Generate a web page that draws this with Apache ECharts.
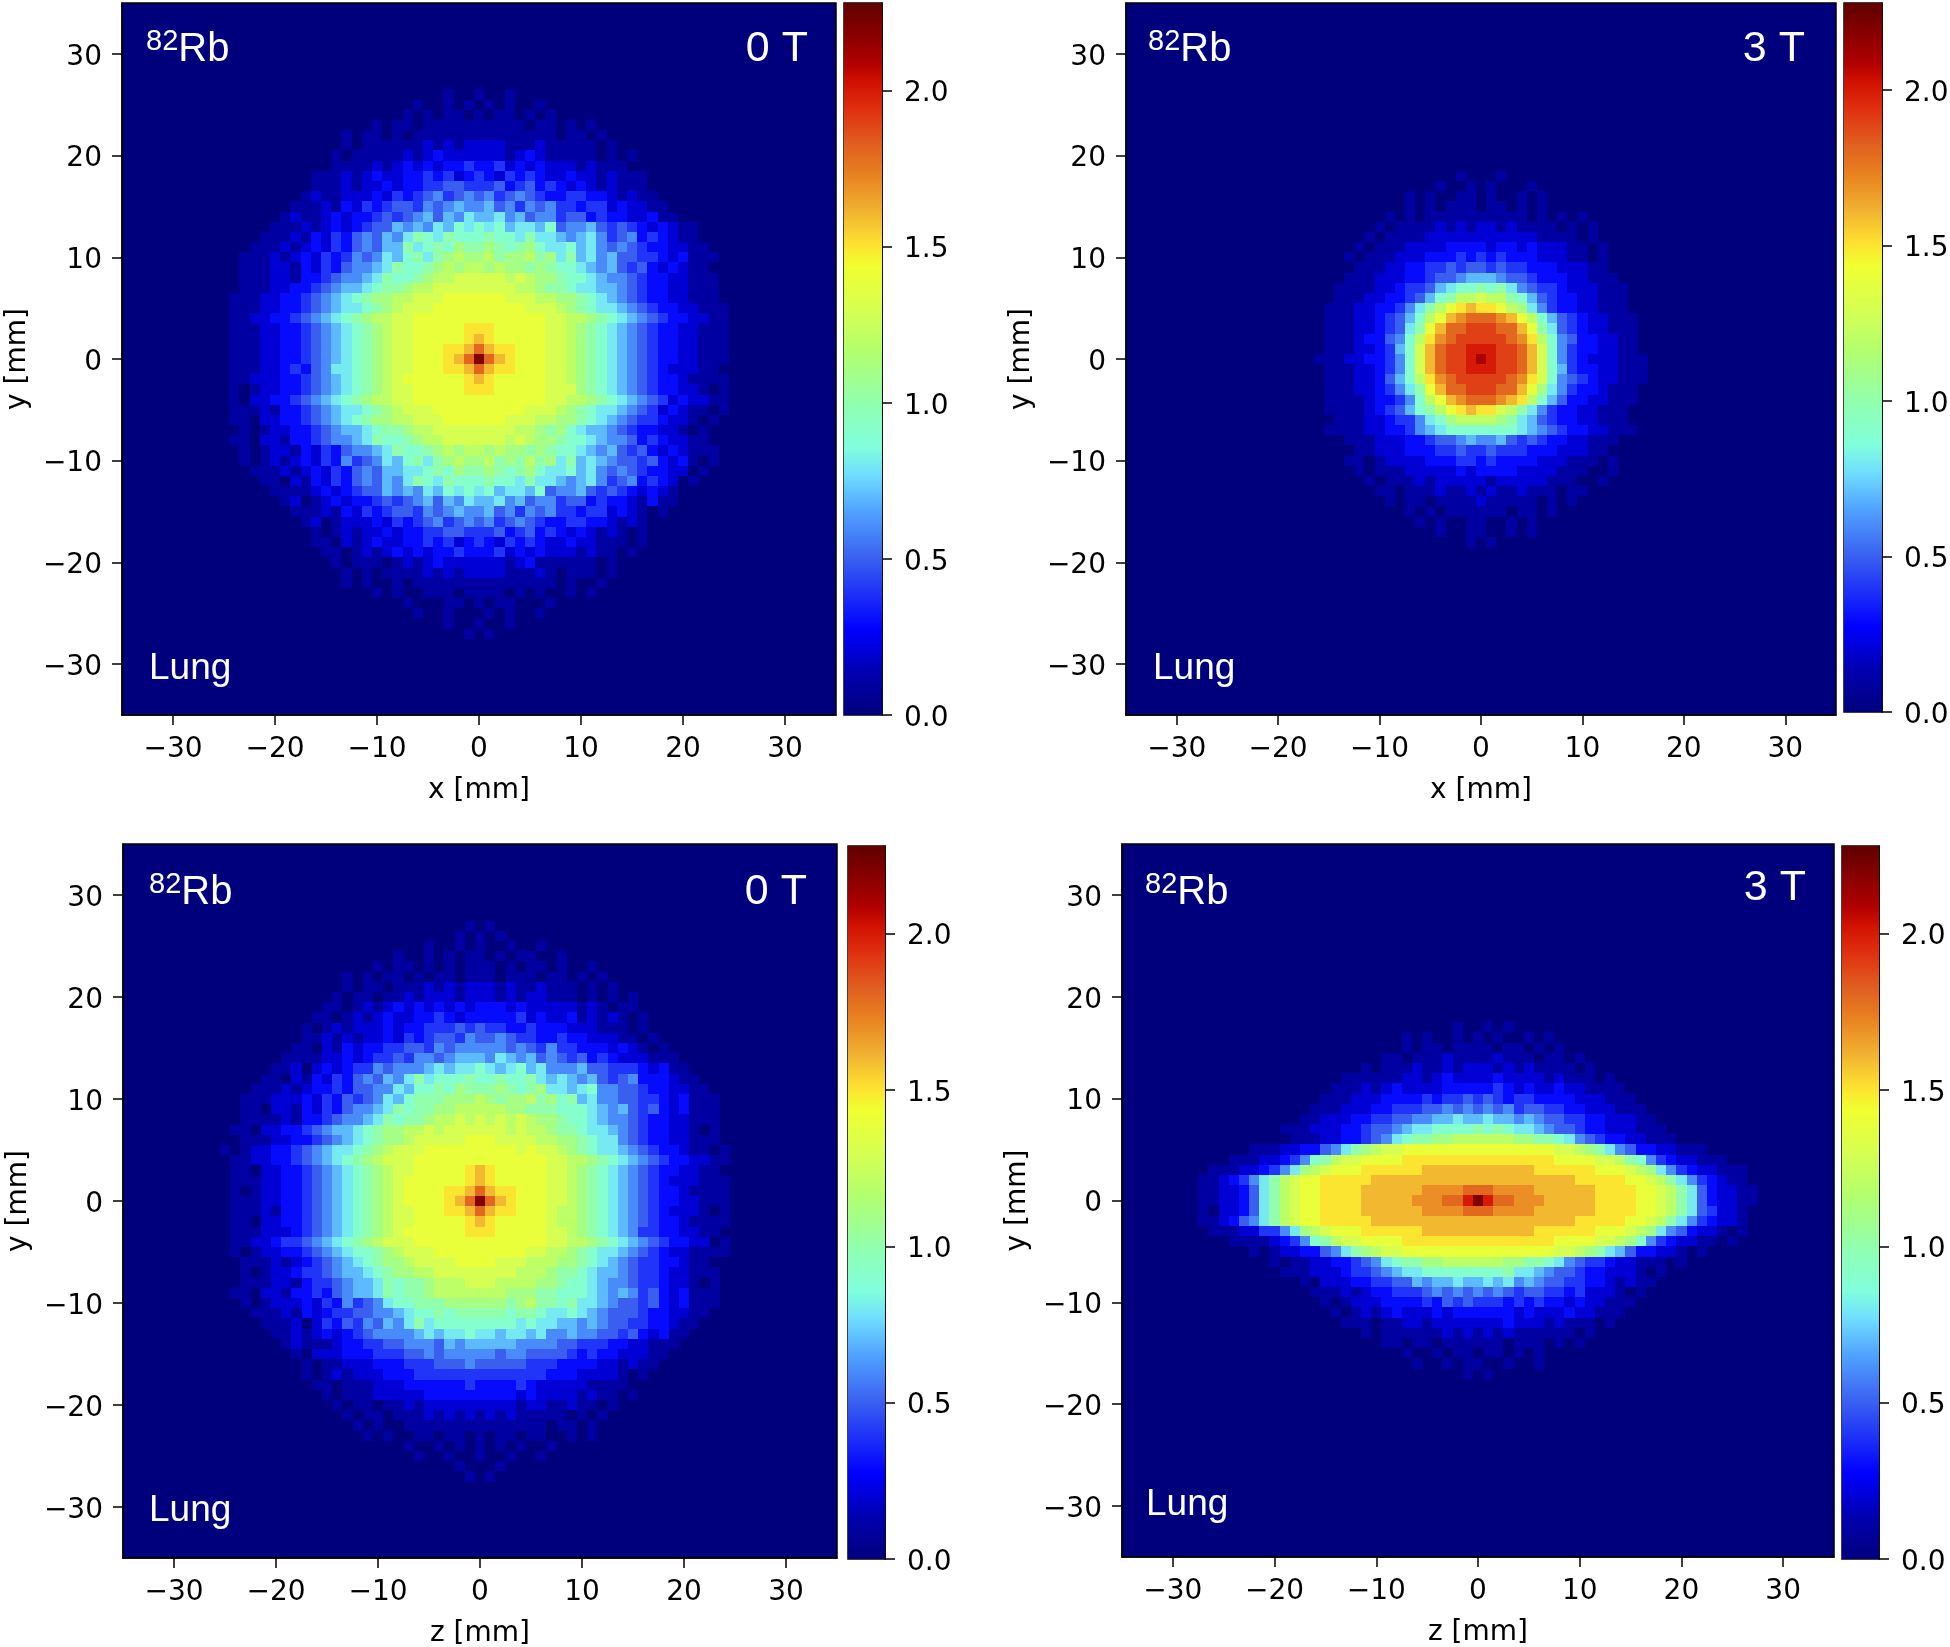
<!DOCTYPE html>
<html><head><meta charset="utf-8">
<style>html,body{margin:0;padding:0;background:#fff}#c{width:1950px;height:1647px}</style>
<script src="https://cdn.jsdelivr.net/npm/echarts@6/dist/echarts.min.js"></script>
</head><body><div id="c"></div>
<script>
// Every character is one 1 mm cell: 0-9,a-m = 0.0 .. 2.2 (tenths). Rows run top to bottom, centred on 0.
const topXY0T = 26;
const rowsXY0T = ["1001001","1001010101001","0010101101011010100","0010110111111111101101010","101101011111111111111011010",
"01011111121212222111211111010","0101111121232222221232111110101","0111121232323343342323222121110","01112123223343423432434322322121110","01112122323344554445345343232121110",
"0121122232434564565645654334433212110","011121324345546567667564656443442322110","01211232334545675768778675664553433223110","0111212323455767687989897887956675454323211","0111213243565768a98a999a998a88767864563432110",
"0111212324356577a89a9baaba9ab988978656543322110","011121232434656879a8abcbbcabbcab8a78675544323 1110".replace(" ",""),"0111221324356678a99abcbccbcbbaba9987675453232110","011122133456678a99abccdddddcdcbba9987665433221110","011122334567789aabccddddddddccbaa9887765433221110",
"01112233456789abbccdddeeeeeedddccbba98765433221110","011122334567889abcdddeeeeeeeeedddcba988765433221110","0112233456789abccddeeeeeeeeeeeeeddccba9876543322110","01112233456789abcddeeeeefffeeeeeddcba98765433221110",
"01112233456789abcddeeeeefgfeeeeeddcba98765433221110","01112233456789abcddeeeffgigffeeeddcba98765433221110","01112233456789abcddeeefgimigfeeeddcba98765433221110",
"01112234356889abcddeeeffgigffeeeddcba98765432221100","01122233456789abcdeeeeeefgfeeeeeddcba98765433211110","01012233456789abcddeeeeefffeeeeedddba98765433221010",
"0102233456789abccddeeeeeeeeeeeeeddccba9876542322110","011121334567889abcdddeeeeeeeeedddcba988765423211010","01102233456789abbccdddeeeeeedddccbba98765443221010","010122334567789aabccddddddddccbab987765433221010",
"011022133456678a99abccddddddcdcbba9987665343221100","0101221324356678a99abcbccbcbbaba99876754532321110","010121232436456879a8abcbbcabacab8a78765545323 1010".replace(" ",""),"0111212324356577889a9baaba9ab988978656543322010","0110213243565768a98a999a998a88767864563432010",
"0111123234557676879898978879566754543232100","01201232334545675768778675664553433213110","011121324345546567667564656443442321010","0120122232434564565645654334433212100","01012122323344554445345343232121010","01102123223343423432434322322111010","011012123232334333423232221211010",
"0101110121232222221231111110100","01010111121212222111210111010","101001011111111111111010010","0010100111011110101001010","0010001101011000100","1001000101001","1001001","101"];

const topXY3T = 18;
const rowsXY3T = ["10001","01001010001","0101001101001010","0101011101101010","010101111111111010101","01011112121221211110101","0101111222222222221111010","010111222233332332322211010","0101112223334343433322211010","011122334454554544333222110","01112223345567776554333221110","01111223445789 9a9a8654432221110".replace(" ",""),"011122334579accdcca975433221110","01112233468acefgffecb86433221110","01112234579ceghiiihgec97543221110","0111223458aegiijjjiigea8543221110","0111233569cfhijjjjjihfc9653322110","0111223479dgijjkkkjjigd9643322110","01112233469dgijjklkjjigd96432221110","0111223469dgijjkkkjjigd9743322111","0111223579cfhijjjjjihfd9654322111","0111223468aegiijjjiigeb8643321110","01111233469ceghiiihgfc97533221110","01111234579acefgffdca86433221110","011122344689bccccba875433221110","0111122334678999999 98765433221110".replace(" ",""),"01112223345567667545433221110","011222333445445444333222110","01101222233344343333222111010","010111222223233332222111001","0101112122222122222111001","01101112112121121110110","010110111121111101010","01010111111011010","010100110010100","01001100101","0010100"];

const topZY0T = 27;
const rowsZY0T = ["101","0101010","0100101001001","0100101011010110010","0010110101011101011010010","101011010110111011101101010","01011011121212221211211101010","0101101121222122212122111010101","011012123232323233323222221210110","01101212322334323333342322312121010","01012122232334445454433433322211 1010".replace(" ",""),"0112121223243455465565443343322211010","011021323344554656666656546443332321010","01111223234454665677768767565453432221110","0112023234465666787889878978666755444323110","0110213243565768a8999a99a99a87876754563332110","0111212334355668799a9baaaba9ab88789665543322110","0111222324354568 79aaabbbcbabbcab9a786655443231110".replace(" ",""),"0110221324356678a9aabbcccccbbaaa99987675453231110","011112133456678a9aabccdcdcdcdcbba9987665433221110","011022334567789abbccdcddddddcdccbaa988765433221010","01112233456789abbcdddddeeeddddccbba98865433221110","010122334567889abcdddeeeeeeeeededdcba988765433211010","0112233456789abcdddeeeeeeeeeeeeeddccba9876543322110","01102233456789abcddeeeeefgfeeeeeddcba98765433221100","01112233456789abcdeeeeeefgfeeeeeddcba98765432221110","01012233456789abcdeeeeffgigffeeeddcba98765433211110","01112233456789abcdeeeefgimigfeeeddcba98765433221110","01112133456789abcddeeeffgigffeeedccba98765432221010","01102233456789abcddeeeeefgfeeeeedccba98765433211110","01112223456789abcdeeeeeefffeeeeeddcba98764433221100","0112234456789abcdddeeeeeeeeeeeeeddccba9876543322010","010122334567899abcdddeeeeeeeeeddccba988765432211110","01112123456789abbcddddeeeedddcccbba98765443321100","010122344567789abbccddddddddcccbaa987765443221110","011122134456778a9aabcccdddccccbba9987665443221010","0110221334356778a9aabcccccccbbbaa99987676453231110","0101222324364568 99aaabbbbbbabcaa9a887655453231110".replace(" ",""),"0111213234455667899a9aaaaa9aa988987655543322110","0111202435465768a8999999998988776765544332110","0112123234566667878898878878667665545323110","01211123344556665767777766665544433221110","010222333444556566666566555543433222110","0101122233344455565555544433332212110","010121222333444444444444433322221010","0110111222333333433334322222111100","010111222223333333332322221211010","0101101121222222222122112110100","01011011121212121211111010100","010100111111111111110110100","0101001101101011011001010","01001010101010010","1001001001001","0100010","101"];

const topZY3T = 17;
const rowsZY3T = ["0100101","101001010100101","01011011110110101","011011121111211101101","0101112112122212121111010","01111112212322223222212111010","0111212322223333343232232211110","011122233334344545434433332221110","01112223344455656565645544332221110","0112223344556677877877676554433222110","01112223345567889999a9a98876554332221110","00111223345689aabbccccccbbaa9865433221110","01112233568abcddeeeeeeeeeeeeeeeddcba86533221110","0111223469acddeeeefffffffffffffffeeeeddca9643221110","0111223468bcdeeeffffffgggggggggggffffffeeedcb8643221110","01123468acdeefffffggggggggggggggggggggfffffeedca86432110","01122358acdeeffffgggggghhhhiiihhhhggggggffffeedca85322110","01122358acdeeffffggggghhhiikmkiihhhgggggffffeedca85322110","01022358acdeeffffgggggghhhhiiihhhhggggggffffeedca85422100","01123568acdeefffffggggggggggggggggggggfffffeedca86432210","0111224468bcdeeeffffffgggggggggggffffffeeedcb8653221010","0111123469acddeeeefffffffffffffffeeeeddcb9643221101","01012233568abcddeeeeeeeeeeeeeeeddcba87533221010","01011223345689aabbccccccbbaa98654432211101","011122234456788999999 99a8876554332221010".replace(" ",""),"010222334455767787787 8676554433212110".replace(" ",""),"01112123344456565656545544342221010","010122233334354544434343323221110","0101212322232333333232223221110","01110112212222222322212111010","0101111112121212111111010","011011011111101110101","01001011011010100","1001011001001","0010100"];

const axisTicks = [-30, -20, -10, 0, 10, 20, 30];
const colorbarTicks = [0, 0.5, 1, 1.5, 2];
const colorbarMax = 2.28;
const jetStops = [[0,'#00007c'],[0.06,'#0000b0'],[0.12,'#0000ff'],[0.22,'#3a60f0'],[0.284,'#50a0ff'],[0.337,'#70ddff'],[0.376,'#80ffdc'],[0.435,'#90ffb0'],[0.506,'#b0ff70'],[0.572,'#d8ff50'],[0.63,'#f0ff30'],[0.663,'#fde030'],[0.71,'#f0b030'],[0.76,'#e88020'],[0.80,'#e06020'],[0.85,'#e03010'],[0.89,'#d01000'],[0.915,'#b00000'],[1,'#600000']];

const panels = [
 {rows:rowsXY0T, top:topXY0T, xName:'x [mm]', box:[122,836,3,715], bar:[844,882,3,715], field:'0 T', gap:62, marg:21, lab:[[146,50],[808,49],[149,669]]},
 {rows:rowsXY3T, top:topXY3T, xName:'x [mm]', box:[1126,1836,3,715], bar:[1844,1882,3,712], field:'3 T', gap:62, marg:21, lab:[[1148,50],[1805,49],[1153,669]]},
 {rows:rowsZY0T, top:topZY0T, xName:'z [mm]', box:[123,837,844,1558], bar:[848,885,846,1559], field:'0 T', gap:62, marg:21, lab:[[149,893],[807,892],[149,1511]]},
 {rows:rowsZY3T, top:topZY3T, xName:'z [mm]', box:[1122,1834,844,1557], bar:[1842,1879,846,1559], field:'3 T', gap:62, marg:21, lab:[[1145,893],[1806,888],[1146,1505]]}
];

function cellsOf(rows, top){
  const out=[];
  rows.forEach((r,i)=>{
    const start=-Math.floor(r.length/2);
    for(let k=0;k<r.length;k++){
      const v=parseInt(r[k],36)/10;
      if(v>0) out.push([start+k, top-i, v]);
    }
  });
  return out;
}
function hex(c){return [1,3,5].map(i=>parseInt(c.substr(i,2),16));}
function jet(v){
  const t=Math.max(0,Math.min(1,v/colorbarMax));
  for(let i=1;i<jetStops.length;i++){
    if(t<=jetStops[i][0]){
      const a=jetStops[i-1],b=jetStops[i],f=(t-a[0])/(b[0]-a[0]);
      const ca=hex(a[1]),cb=hex(b[1]);
      return 'rgb('+ca.map((x,j)=>Math.round(x+(cb[j]-x)*f)).join(',')+')';
    }
  }
  return jetStops[jetStops.length-1][1];
}
const FONT='"DejaVu Sans"';
const fmt=v=>String(v).replace('-','\u2212');
const line={show:true,onZero:false,lineStyle:{color:'#000',width:1.5}};
const tick={show:true,length:10,lineStyle:{color:'#000',width:1.5}};
const lowered={a:{fontFamily:FONT,fontSize:28,color:'#000',padding:[7,0,0,0]}};
const grid=[],xAxis=[],yAxis=[],series=[],graphic=[];
panels.forEach((p,i)=>{
  const g=2*i,b=g+1;
  grid.push({left:p.box[0],width:p.box[1]-p.box[0],top:p.box[2],height:p.box[3]-p.box[2],outerBoundsMode:'none',show:true,backgroundColor:'#00007c',borderColor:'#000',borderWidth:1.5});
  grid.push({left:p.bar[0],width:p.bar[1]-p.bar[0],top:p.bar[2],height:p.bar[3]-p.bar[2],outerBoundsMode:'none',show:true,borderColor:'#000',borderWidth:1.5});
  xAxis.push({gridIndex:g,type:'value',min:-35,max:35,name:p.xName,nameLocation:'middle',nameGap:p.gap,nameTextStyle:{fontFamily:FONT,fontSize:28,color:'#000'},
    axisLine:line,axisTick:Object.assign({customValues:axisTicks},tick),splitLine:{show:false},
    axisLabel:{customValues:axisTicks,formatter:fmt,fontFamily:FONT,fontSize:28,color:'#000',margin:p.marg}});
  yAxis.push({gridIndex:g,type:'value',min:-35,max:35,name:'y [mm]',nameLocation:'middle',nameGap:90,nameRotate:90,nameTextStyle:{fontFamily:FONT,fontSize:28,color:'#000'},
    axisLine:line,axisTick:Object.assign({customValues:axisTicks},tick),splitLine:{show:false},
    axisLabel:{customValues:axisTicks,formatter:v=>'{a|'+fmt(v)+'}',rich:lowered,margin:20}});
  xAxis.push({gridIndex:b,type:'value',min:0,max:1,show:false});
  yAxis.push({gridIndex:b,type:'value',position:'right',min:0,max:colorbarMax,axisLine:line,axisTick:Object.assign({customValues:colorbarTicks},tick),splitLine:{show:false},
    axisLabel:{customValues:colorbarTicks,formatter:v=>'{a|'+v.toFixed(1)+'}',rich:lowered,margin:22}});
  series.push({type:'custom',name:p.field+' '+p.xName,xAxisIndex:g,yAxisIndex:g,coordinateSystem:'cartesian2d',animation:false,progressive:0,clip:true,silent:true,
    encode:{x:0,y:1},data:cellsOf(p.rows,p.top),
    renderItem:(params,api)=>{
      const x=api.value(0),y=api.value(1);
      const a=api.coord([x-.5,y+.5]),c=api.coord([x+.5,y-.5]);
      const l=Math.round(a[0]),t=Math.round(a[1]);
      return {type:'rect',shape:{x:l,y:t,width:Math.round(c[0])-l,height:Math.round(c[1])-t},style:{fill:jet(api.value(2))}};
    }});
  series.push({type:'custom',xAxisIndex:b,yAxisIndex:b,coordinateSystem:'cartesian2d',animation:false,silent:true,
    encode:{x:0,y:1},data:[[0,0,1,colorbarMax]],
    renderItem:(params,api)=>{
      const a=api.coord([api.value(2),api.value(3)]),c=api.coord([api.value(0),api.value(1)]);
      return {type:'rect',shape:{x:c[0],y:a[1],width:a[0]-c[0],height:c[1]-a[1]},
        style:{fill:new echarts.graphic.LinearGradient(0,1,0,0,jetStops.map(s=>({offset:s[0],color:s[1]})))}};
    }});
  const white={fill:'#fff',fontFamily:'"Liberation Sans"'};
  graphic.push({type:'text',x:p.lab[0][0],y:p.lab[0][1],z:100,style:Object.assign({text:'{s|82}{b|Rb}',verticalAlign:'middle',align:'left',
    rich:{s:{fill:'#fff',fontFamily:'"Liberation Sans"',fontSize:29,verticalAlign:'top',lineHeight:46},b:{fill:'#fff',fontFamily:'"Liberation Sans"',fontSize:40,lineHeight:46}}},white)});
  graphic.push({type:'text',x:p.lab[1][0],y:p.lab[1][1],z:100,style:Object.assign({text:p.field,fontSize:43,align:'right',verticalAlign:'middle'},white)});
  graphic.push({type:'text',x:p.lab[2][0],y:p.lab[2][1],z:100,style:Object.assign({text:'Lung',fontSize:37,align:'left',verticalAlign:'middle'},white)});
});
const chart=echarts.init(document.getElementById('c'),null,{renderer:'canvas'});
chart.setOption({animation:false,backgroundColor:'#fff',grid,xAxis,yAxis,series,graphic});
</script></body></html>
